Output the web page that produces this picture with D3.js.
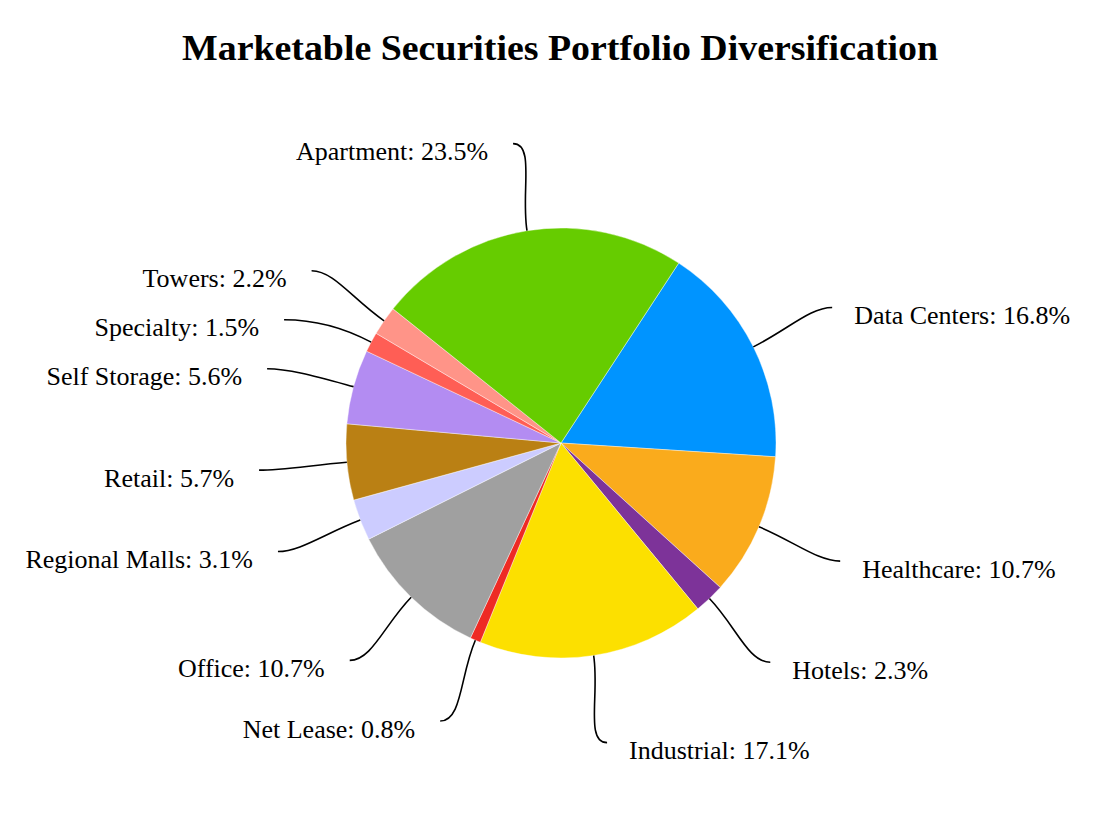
<!DOCTYPE html>
<html>
<head>
<meta charset="utf-8">
<script src="https://cdn.jsdelivr.net/npm/d3@7"></script>
<style>
  html, body { margin: 0; padding: 0; background: #fff; }
  svg { display: block; }
</style>
</head>
<body>
<script>
const categories = ["Data Centers", "Healthcare", "Hotels", "Industrial", "Net Lease", "Office",
  "Regional Malls", "Retail", "Self Storage", "Specialty", "Towers", "Apartment"];
const values = [16.8, 10.7, 2.3, 17.1, 0.8, 10.7, 3.1, 5.7, 5.6, 1.5, 2.2, 23.5];
const colors = ["#0094ff", "#faab1c", "#7d3399", "#fce000", "#ee2a24", "#a0a0a0",
  "#ccccff", "#ba8014", "#b38cf2", "#ff5e55", "#ff9488", "#66cc00"];
const title = "Marketable Securities Portfolio Diversification";

const W = 1120, H = 814;
const cx = 561, cy = 443, R = 215;
const startDeg = 33.2;
const RL = R * 1.41;
const minGap = 49;

const svg = d3.select("body").append("svg").attr("width", W).attr("height", H);

svg.append("text")
  .attr("x", 560).attr("y", 60)
  .attr("text-anchor", "middle")
  .attr("font-family", "'Liberation Serif', 'Times New Roman', serif")
  .attr("font-weight", "bold")
  .attr("font-size", 36)
  .attr("textLength", 756)
  .attr("lengthAdjust", "spacingAndGlyphs")
  .text(title);

const data = categories.map((c, i) => ({ name: c, value: values[i], color: colors[i] }));
const pie = d3.pie().sort(null).value(d => d.value)
  .startAngle(startDeg * Math.PI / 180)
  .endAngle(startDeg * Math.PI / 180 + 2 * Math.PI);
const arcs = pie(data);
const arc = d3.arc().innerRadius(0).outerRadius(R);

const g = svg.append("g").attr("transform", `translate(${cx},${cy})`);
g.selectAll("path.slice").data(arcs).join("path")
  .attr("class", "slice")
  .attr("d", arc)
  .attr("fill", d => d.data.color)
  .attr("stroke", "#ffffff")
  .attr("stroke-width", 0.4);

const pt = (a, r) => [r * Math.sin(a), -r * Math.cos(a)];

// label anchor layout
const labels = arcs.map(d => {
  const a = (d.startAngle + d.endAngle) / 2;
  const p3 = pt(a, RL);
  return { d, a, side: p3[0] >= 0 ? 1 : -1, x: p3[0], y: p3[1] };
});
[1, -1].forEach(s => {
  const grp = labels.filter(l => l.side === s).sort((u, v) => u.y - v.y);
  for (let i = 1; i < grp.length; i++) {
    if (grp[i].y < grp[i - 1].y + minGap) {
      grp[i].y = grp[i - 1].y + minGap;
      grp[i].x = s * Math.sqrt(Math.max(0, RL * RL - grp[i].y * grp[i].y));
    }
  }
});

labels.forEach(l => {
  const p0 = pt(l.a, R);
  const p1 = pt(l.a, R * 1.18);
  const p3 = [l.x, l.y];
  const p2 = [p3[0] - l.side * 22, p3[1]];
  const path = d3.path();
  path.moveTo(p0[0], p0[1]);
  path.bezierCurveTo(p1[0], p1[1], p2[0], p2[1], p3[0], p3[1]);
  g.append("path").attr("d", path.toString())
    .attr("fill", "none").attr("stroke", "#000").attr("stroke-width", 1.6);
  g.append("text")
    .attr("x", p3[0] + l.side * (l.side > 0 ? 22 : 25))
    .attr("y", p3[1] + 8)
    .attr("dominant-baseline", "central")
    .attr("text-anchor", l.side > 0 ? "start" : "end")
    .attr("font-family", "'Liberation Serif', 'Times New Roman', serif")
    .attr("font-size", 26)
    .attr("fill", "#000")
    .text(`${l.d.data.name}: ${l.d.data.value.toFixed(1)}%`);
});
</script>
</body>
</html>
